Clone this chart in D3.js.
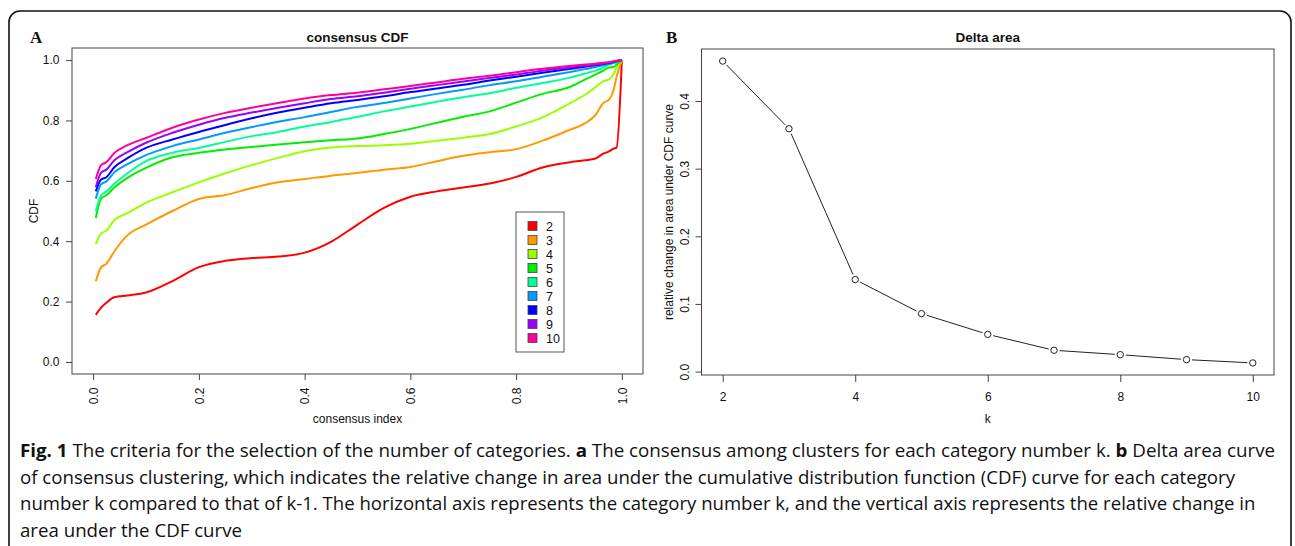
<!DOCTYPE html>
<html>
<head>
<meta charset="utf-8">
<script src="https://cdn.jsdelivr.net/npm/d3@7"></script>
<style>
  body { margin: 0; background: #fff; }
  svg { display: block; }
  text { font-family: "Liberation Sans", Arial, sans-serif; fill: #111; }
</style>
</head>
<body>
<svg id="fig" width="1295" height="546"></svg>
<script>
// consensus index grid (x) shared by all CDF curves
var cdfX = [0.005, 0.015, 0.025, 0.04, 0.065, 0.1, 0.15, 0.2, 0.25, 0.3, 0.35, 0.4, 0.45, 0.5,
            0.55, 0.6, 0.65, 0.7, 0.75, 0.8, 0.85, 0.9, 0.93, 0.95, 0.965, 0.975, 0.985, 0.99, 1.0];

var cdfK2  = [0.156, 0.180, 0.196, 0.214, 0.220, 0.230, 0.268, 0.314, 0.335, 0.344, 0.349, 0.362, 0.398, 0.455,
              0.510, 0.547, 0.565, 0.578, 0.591, 0.613, 0.644, 0.661, 0.668, 0.674, 0.690, 0.697, 0.707, 0.710, 1.0];
var cdfK3  = [0.267, 0.313, 0.325, 0.366, 0.420, 0.455, 0.500, 0.540, 0.553, 0.576, 0.595, 0.606, 0.617, 0.626,
              0.637, 0.646, 0.665, 0.683, 0.695, 0.705, 0.733, 0.768, 0.790, 0.818, 0.858, 0.868, 0.905, 0.945, 1.0];
var cdfK4  = [0.390, 0.425, 0.435, 0.470, 0.493, 0.527, 0.562, 0.595, 0.625, 0.652, 0.676, 0.698, 0.710, 0.715,
              0.718, 0.723, 0.733, 0.743, 0.755, 0.780, 0.810, 0.855, 0.885, 0.910, 0.930, 0.935, 0.955, 0.975, 1.0];
var cdfK5  = [0.477, 0.541, 0.552, 0.578, 0.610, 0.643, 0.678, 0.693, 0.704, 0.712, 0.720, 0.728, 0.734, 0.740,
              0.755, 0.772, 0.792, 0.812, 0.830, 0.859, 0.888, 0.910, 0.935, 0.952, 0.965, 0.975, 0.978, 0.985, 1.0];
var cdfK6  = [0.499, 0.552, 0.565, 0.590, 0.625, 0.665, 0.693, 0.709, 0.729, 0.748, 0.762, 0.780, 0.795, 0.812,
              0.830, 0.846, 0.862, 0.877, 0.890, 0.908, 0.924, 0.941, 0.955, 0.965, 0.975, 0.984, 0.990, 0.993, 1.0];
var cdfK7  = [0.541, 0.588, 0.598, 0.628, 0.655, 0.685, 0.715, 0.737, 0.759, 0.778, 0.796, 0.811, 0.828, 0.845,
              0.858, 0.873, 0.888, 0.902, 0.917, 0.930, 0.945, 0.960, 0.970, 0.977, 0.983, 0.987, 0.992, 0.995, 1.0];
var cdfK8  = [0.565, 0.604, 0.612, 0.645, 0.675, 0.709, 0.737, 0.762, 0.785, 0.807, 0.826, 0.842, 0.857, 0.868,
              0.880, 0.894, 0.906, 0.918, 0.932, 0.945, 0.958, 0.970, 0.978, 0.983, 0.987, 0.990, 0.994, 0.996, 1.0];
var cdfK9  = [0.579, 0.627, 0.637, 0.668, 0.695, 0.726, 0.759, 0.786, 0.809, 0.826, 0.842, 0.857, 0.871, 0.880,
              0.892, 0.905, 0.917, 0.929, 0.941, 0.952, 0.965, 0.975, 0.981, 0.985, 0.989, 0.992, 0.995, 0.997, 1.0];
var cdfK10 = [0.606, 0.652, 0.662, 0.692, 0.718, 0.742, 0.776, 0.803, 0.825, 0.842, 0.858, 0.873, 0.884, 0.892,
              0.903, 0.914, 0.926, 0.938, 0.948, 0.960, 0.971, 0.980, 0.985, 0.988, 0.991, 0.993, 0.996, 0.998, 1.0];

var kLabels = ["2", "3", "4", "5", "6", "7", "8", "9", "10"];
var kColors = ["#ff0000", "#ff9900", "#99ff00", "#00ee00", "#00ff99", "#0099ff", "#0000ff", "#9900ff", "#ff0099"];

var cdfTicks = [0, 0.2, 0.4, 0.6, 0.8, 1.0];

// delta area panel
var deltaK = [2, 3, 4, 5, 6, 7, 8, 9, 10];
var deltaArea = [0.459, 0.359, 0.136, 0.0857, 0.055, 0.0315, 0.025, 0.0177, 0.0128];
var deltaXTicks = [2, 4, 6, 8, 10];
var deltaYTicks = [0, 0.1, 0.2, 0.3, 0.4];

var captionLines = [
  [["Fig. 1", true], [" The criteria for the selection of the number of categories. ", false], ["a", true],
   [" The consensus among clusters for each category number k. ", false], ["b", true], [" Delta area curve", false]],
  [["of consensus clustering, which indicates the relative change in area under the cumulative distribution function (CDF) curve for each category", false]],
  [["number k compared to that of k-1. The horizontal axis represents the category number k, and the vertical axis represents the relative change in", false]],
  [["area under the CDF curve", false]]
];
var captionWidths = [1256, 1216, 1236, null];

var svg = d3.select("#fig");

// outer rounded frame
svg.append("rect")
  .attr("x", 9).attr("y", 11).attr("width", 1282).attr("height", 570).attr("rx", 11)
  .attr("fill", "none").attr("stroke", "#111").attr("stroke-width", 1.6);

// ---------- panel A: consensus CDF ----------
var boxA = {left: 72, right: 643, top: 48, bottom: 374};
var xA = d3.scaleLinear().domain([-0.04, 1.04]).range([boxA.left, boxA.right]);
var yA = d3.scaleLinear().domain([-0.04, 1.04]).range([boxA.bottom, boxA.top]);

var cdfSeries = [cdfK2, cdfK3, cdfK4, cdfK5, cdfK6, cdfK7, cdfK8, cdfK9, cdfK10];
var cdfLine = d3.line()
  .x(function(d) { return xA(d[0]); })
  .y(function(d) { return yA(d[1]); })
  .curve(d3.curveMonotoneX);

cdfSeries.forEach(function(ys, i) {
  svg.append("path")
    .datum(cdfX.map(function(x, j) { return [x, ys[j]]; }))
    .attr("fill", "none")
    .attr("stroke", kColors[i])
    .attr("stroke-width", 2)
    .attr("stroke-linejoin", "round")
    .attr("d", cdfLine);
});

svg.append("rect")
  .attr("x", boxA.left).attr("y", boxA.top)
  .attr("width", boxA.right - boxA.left).attr("height", boxA.bottom - boxA.top)
  .attr("fill", "none").attr("stroke", "#444").attr("stroke-width", 1);

var axA_x = svg.append("g")
  .attr("transform", "translate(0," + boxA.bottom + ")")
  .call(d3.axisBottom(xA).tickValues(cdfTicks).tickSize(6).tickFormat(d3.format(".1f")));
axA_x.selectAll("text")
  .attr("transform", "rotate(-90)")
  .attr("x", -13.5).attr("y", 0).attr("dy", "0.36em")
  .style("text-anchor", "end");

var axA_y = svg.append("g")
  .attr("transform", "translate(" + boxA.left + ",0)")
  .call(d3.axisLeft(yA).tickValues(cdfTicks).tickSize(6).tickFormat(d3.format(".1f")));
axA_y.selectAll("text").attr("x", -12.5);

[axA_x, axA_y].forEach(function(g) {
  g.select(".domain").remove();
  g.selectAll("line").attr("stroke", "#444");
  g.selectAll("text").style("font-size", "12px").style("font-family", "\"Liberation Sans\", Arial, sans-serif").attr("fill", "#111");
});

svg.append("text")
  .attr("x", (boxA.left + boxA.right) / 2).attr("y", 41.5)
  .attr("text-anchor", "middle")
  .style("font-size", "13.5px").style("font-weight", "bold")
  .text("consensus CDF");

svg.append("text")
  .attr("x", (boxA.left + boxA.right) / 2).attr("y", 423)
  .attr("text-anchor", "middle")
  .style("font-size", "12px")
  .text("consensus index");

svg.append("text")
  .attr("transform", "translate(37.8," + ((boxA.top + boxA.bottom) / 2) + ")rotate(-90)")
  .attr("text-anchor", "middle")
  .style("font-size", "12px")
  .text("CDF");

svg.append("text")
  .attr("x", 30).attr("y", 43)
  .style("font-family", "\"Liberation Serif\", \"Times New Roman\", serif")
  .style("font-size", "17px").style("font-weight", "bold")
  .text("A");

// legend
var legend = svg.append("g").attr("transform", "translate(516,212)");
legend.append("rect")
  .attr("width", 48).attr("height", 140)
  .attr("fill", "#fff").attr("stroke", "#555").attr("stroke-width", 1);
var legendItem = legend.selectAll("g.item")
  .data(kLabels)
  .enter().append("g")
  .attr("class", "item")
  .attr("transform", function(d, i) { return "translate(0," + (14 + i * 14) + ")"; });
legendItem.append("rect")
  .attr("x", 12).attr("y", -4.5).attr("width", 9).attr("height", 9)
  .attr("fill", function(d, i) { return kColors[i]; })
  .attr("stroke", "#444").attr("stroke-width", 0.8);
legendItem.append("text")
  .attr("x", 30).attr("y", 4.5)
  .style("font-size", "12.5px")
  .text(function(d) { return d; });

// ---------- panel B: Delta area ----------
var boxB = {left: 701.5, right: 1274, top: 49, bottom: 375};
var kExt = d3.extent(deltaK), aExt = d3.extent(deltaArea);
var kPad = (kExt[1] - kExt[0]) * 0.04, aPad = (aExt[1] - aExt[0]) * 0.04;
var xB = d3.scaleLinear().domain([kExt[0] - kPad, kExt[1] + kPad]).range([boxB.left, boxB.right]);
var yB = d3.scaleLinear().domain([aExt[0] - aPad, aExt[1] + aPad]).range([boxB.bottom, boxB.top]);

// type "b" style: segments stop short of the point symbols
var pts = deltaK.map(function(k, i) { return [xB(k), yB(deltaArea[i])]; });
var gap = 5.5;
for (var i = 0; i < pts.length - 1; i++) {
  var p = pts[i], q = pts[i + 1];
  var dx = q[0] - p[0], dy = q[1] - p[1], len = Math.sqrt(dx * dx + dy * dy);
  if (len <= 2 * gap) continue;
  var ux = dx / len, uy = dy / len;
  svg.append("line")
    .attr("x1", p[0] + ux * gap).attr("y1", p[1] + uy * gap)
    .attr("x2", q[0] - ux * gap).attr("y2", q[1] - uy * gap)
    .attr("stroke", "#222").attr("stroke-width", 1);
}
svg.selectAll("circle.pt")
  .data(deltaK)
  .enter().append("circle")
  .attr("class", "pt")
  .attr("cx", function(d) { return xB(d); })
  .attr("cy", function(d, i) { return yB(deltaArea[i]); })
  .attr("r", 3.2)
  .attr("fill", "none").attr("stroke", "#222").attr("stroke-width", 1);

svg.append("rect")
  .attr("x", boxB.left).attr("y", boxB.top)
  .attr("width", boxB.right - boxB.left).attr("height", boxB.bottom - boxB.top)
  .attr("fill", "none").attr("stroke", "#444").attr("stroke-width", 1);

var axB_x = svg.append("g")
  .attr("transform", "translate(0," + boxB.bottom + ")")
  .call(d3.axisBottom(xB).tickValues(deltaXTicks).tickSize(7).tickFormat(d3.format("d")));
axB_x.selectAll("text").attr("y", 26).attr("dy", 0);

var axB_y = svg.append("g")
  .attr("transform", "translate(" + boxB.left + ",0)")
  .call(d3.axisLeft(yB).tickValues(deltaYTicks).tickSize(6).tickFormat(d3.format(".1f")));
axB_y.selectAll("text")
  .attr("transform", "rotate(-90)")
  .attr("x", 0).attr("y", -12.2).attr("dy", 0)
  .style("text-anchor", "middle");

[axB_x, axB_y].forEach(function(g) {
  g.select(".domain").remove();
  g.selectAll("line").attr("stroke", "#444");
  g.selectAll("text").style("font-size", "12px").style("font-family", "\"Liberation Sans\", Arial, sans-serif").attr("fill", "#111");
});

svg.append("text")
  .attr("x", (boxB.left + boxB.right) / 2).attr("y", 41.5)
  .attr("text-anchor", "middle")
  .style("font-size", "13.5px").style("font-weight", "bold")
  .text("Delta area");

svg.append("text")
  .attr("x", (boxB.left + boxB.right) / 2).attr("y", 423)
  .attr("text-anchor", "middle")
  .style("font-size", "12px")
  .text("k");

svg.append("text")
  .attr("transform", "translate(672.5," + ((boxB.top + boxB.bottom) / 2) + ")rotate(-90)")
  .attr("text-anchor", "middle")
  .style("font-size", "12px")
  .text("relative change in area under CDF curve");

svg.append("text")
  .attr("x", 666).attr("y", 43)
  .style("font-family", "\"Liberation Serif\", \"Times New Roman\", serif")
  .style("font-size", "17px").style("font-weight", "bold")
  .text("B");

// ---------- caption ----------
var capScales = [];
var capNodes = captionLines.map(function(parts, li) {
  var t = svg.append("text")
    .attr("transform", "translate(20," + (457 + li * 26.5) + ")")
    .style("font-family", "\"Liberation Sans Narrow\", \"Open Sans\", \"Noto Sans\", sans-serif")
    .style("font-size", "18px")
    .attr("fill", "#222");
  parts.forEach(function(p) {
    t.append("tspan")
      .style("font-weight", p[1] ? "bold" : "normal")
      .text(p[0]);
  });
  return t;
});
capNodes.forEach(function(t, li) {
  if (captionWidths[li]) {
    capScales.push(captionWidths[li] / t.node().getComputedTextLength());
  }
});
var meanScale = d3.mean(capScales);
capNodes.forEach(function(t, li) {
  var s = captionWidths[li] ? captionWidths[li] / t.node().getComputedTextLength() : meanScale;
  t.attr("transform", "translate(20," + (457 + li * 26.5) + ")scale(" + s + ",1)");
});
</script>
</body>
</html>
